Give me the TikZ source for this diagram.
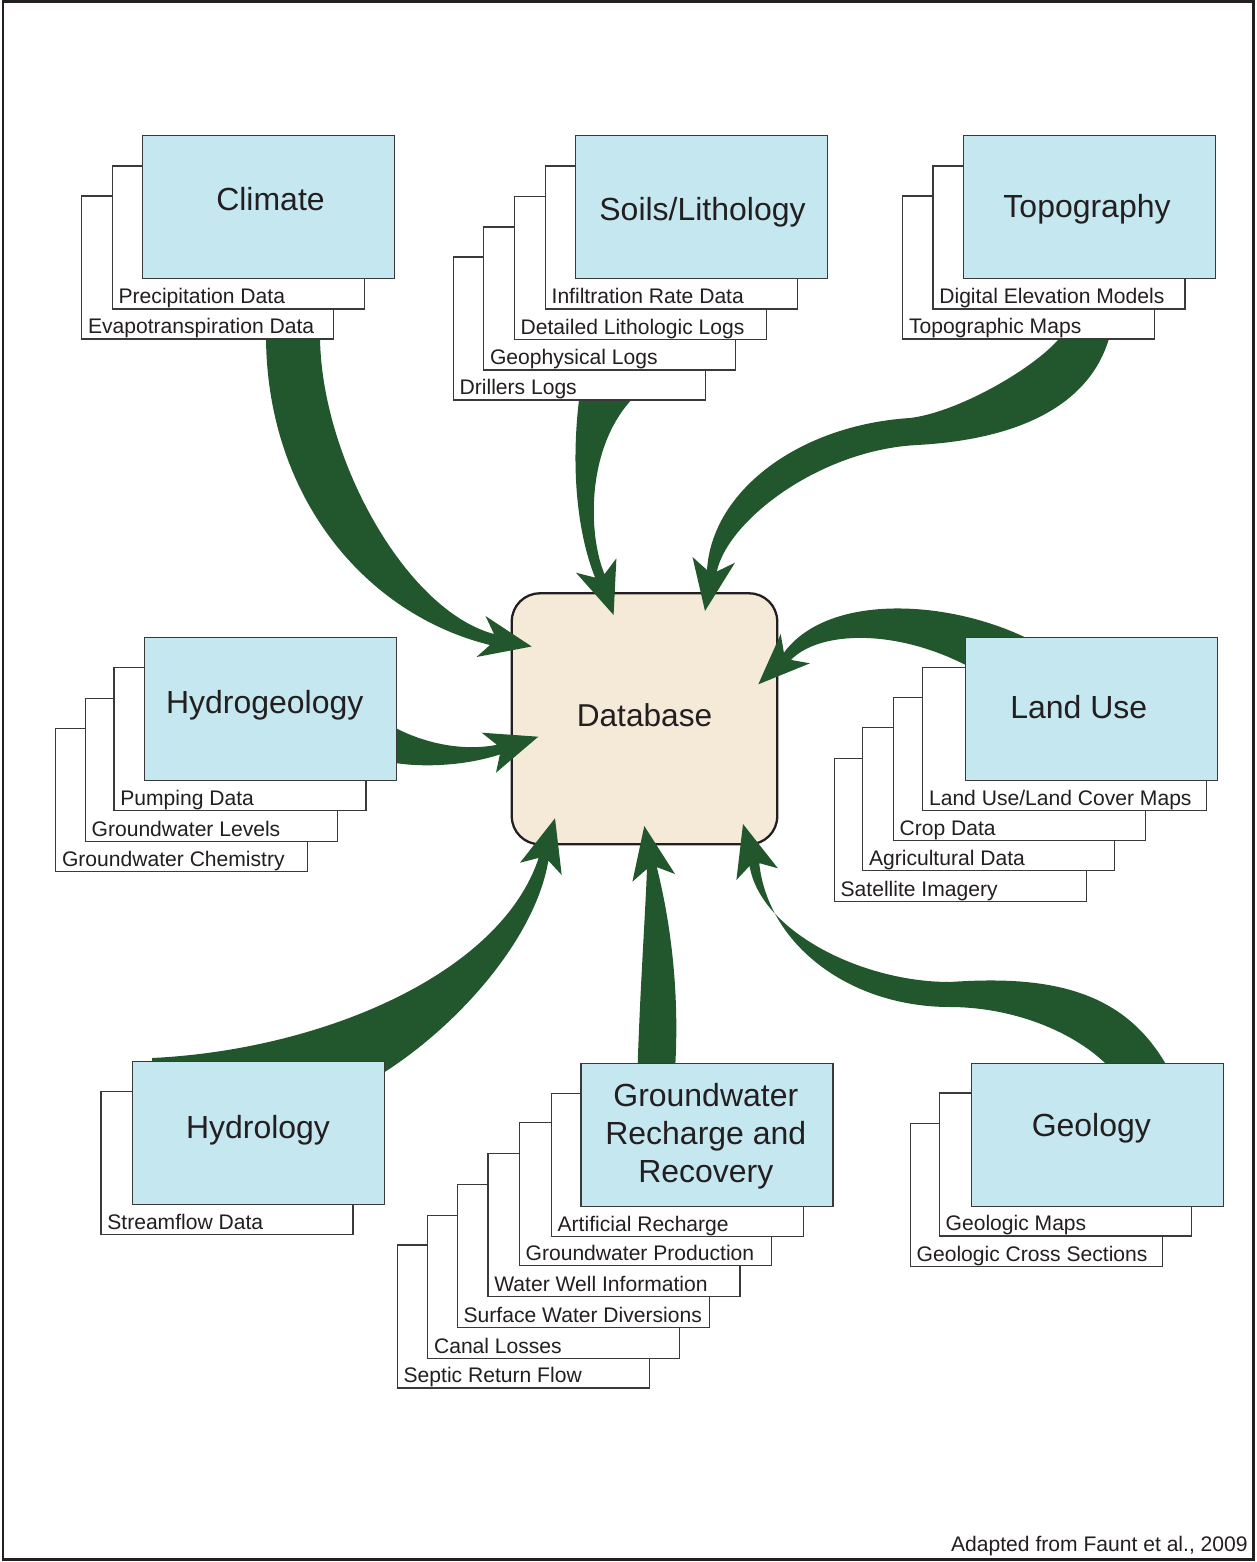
\documentclass[tikz,border=0pt]{standalone}
\usepackage{fontspec}
\setmainfont{Liberation Sans}
\usetikzlibrary{calc}
\definecolor{cardblue}{HTML}{C5E8F0}
\definecolor{dbbeige}{HTML}{F5EAD8}
\definecolor{flowgreen}{HTML}{22562C}
\definecolor{edgegray}{HTML}{3A3A3A}
\definecolor{inkdark}{HTML}{231F20}

\begin{document}
\begin{tikzpicture}[x=0.02cm, y=-0.02cm,
  every node/.style={text=inkdark},
  card/.style={draw=edgegray, line width=0.7pt, fill=cardblue, minimum width=5.04cm, minimum height=2.86cm, anchor=north west, inner sep=0pt, outer sep=0pt},
  backcard/.style={card, fill=white},
  title/.style={font=\fontsize{18.2}{21.6}\selectfont, align=center, anchor=base, inner sep=0pt},
  cardlabel/.style={font=\fontsize{12}{14.4}\selectfont, anchor=base west, inner sep=0pt},
  flow/.style={fill=flowgreen, draw=none}]
\useasboundingbox (0,0) rectangle (1257,1562);
\draw[line width=0.05cm, draw=inkdark] (3,1.5) rectangle (1253.5,1559.5);

% Database in the middle
\node[draw=inkdark, line width=1.3pt, fill=dbbeige, rounded corners=0.56cm, minimum width=5.31cm, minimum height=5.02cm, text height=8.6pt, text depth=0pt, font=\fontsize{18}{21.6}\selectfont] (db) at (644.5,718.8) {Database};

% Arrow tips on the database
\coordinate (climateTip) at (531.7,646.5);
\coordinate (soilsTip) at (613.6,615);
\coordinate (topoTip) at (705,611);
\coordinate (landTip) at (758.3,684.3);
\coordinate (hydgeoTip) at (538.3,736.7);
\coordinate (hydroTip) at (555,818.3);
\coordinate (grrTip) at (644.3,826);
\coordinate (geoTip) at (743,824);

% Draw the tapered arrows
\fill[flow] (266,335) .. controls (266,495) and (364,614) .. (490,645)
  -- (476.5,657) -- (climateTip) -- (485.5,616) -- (494,634)
  .. controls (405,610.4) and (320,455) .. (320,335) -- cycle;
\fill[flow] (579.6,395) .. controls (570,470) and (578,535) .. (595.1,577.6)
  -- (576,572.7) -- (soilsTip) -- (616.4,558.3) -- (604.5,574.2)
  .. controls (588,535) and (585,445) .. (636,395) -- cycle;
\fill[flow] (1062,335) .. controls (1040,365) and (960,412) .. (910,418)
  .. controls (800,425) and (712,490) .. (707,570)
  -- (692.5,557) -- (topoTip) -- (735,562.7) -- (716.8,571.5)
  .. controls (728,520) and (820,450) .. (917,445)
  .. controls (1010,440) and (1090,410) .. (1110,335) -- cycle;
\fill[flow] (1040,645) .. controls (960,600) and (830,590) .. (783.9,652.7)
  -- (780.7,634) -- (landTip) -- (810,663.3) -- (790.9,659.9)
  .. controls (820,630) and (900,628) .. (975,670) -- cycle;
\fill[flow] (390,725) .. controls (420,742) and (460,752) .. (496.9,744.8)
  -- (481.7,732.7) -- (hydgeoTip) -- (496,772.7) -- (499.9,754.4)
  .. controls (465,766) and (420,768) .. (390,762) -- cycle;
\fill[flow] (152,1058) .. controls (320,1050) and (500,975) .. (538.7,857.9)
  -- (520,862.7) -- (hydroTip) -- (561.7,875) -- (548.4,860.6)
  .. controls (535,940) and (455,1030) .. (375,1078) -- (152,1062) -- cycle;
\fill[flow] (637.5,1070) .. controls (640,990) and (645,920) .. (647,868.9)
  -- (632.4,881.7) -- (grrTip) -- (675,874) -- (656.8,867.1)
  .. controls (670,920) and (680,990) .. (675,1070) -- cycle;
\fill[flow] (1168,1068) .. controls (1125,990) and (1050,975) .. (950,982)
  .. controls (860,982) and (760,930) .. (749.6,865.9)
  -- (736.4,880) -- (geoTip) -- (777.9,868.3) -- (759.2,863.1)
  .. controls (768,945) and (850,1007) .. (950,1007)
  .. controls (1010,1007) and (1075,1030) .. (1112,1070) -- cycle;

% Climate stack
\node[backcard] (climateC) at (81.7,196) {};
\node[cardlabel] (climateCtxt) at ($(climateC.south west)+(6,-5)$) {Evapotranspiration Data};
\node[backcard] (climateB) at (112.3,166) {};
\node[cardlabel] (climateBtxt) at ($(climateB.south west)+(6,-5)$) {Precipitation Data};
\node[card] (climate) at (142.3,135.7) {};
\node[title] (climateT) at (270.5,210) {Climate};

% Soils/Lithology stack
\node[backcard] (soilsE) at (453.3,257) {};
\node[cardlabel] (soilsEtxt) at ($(soilsE.south west)+(6,-5)$) {Drillers Logs};
\node[backcard] (soilsD) at (483.7,227) {};
\node[cardlabel] (soilsDtxt) at ($(soilsD.south west)+(6,-5)$) {Geophysical Logs};
\node[backcard] (soilsC) at (514.3,196.5) {};
\node[cardlabel] (soilsCtxt) at ($(soilsC.south west)+(6,-5)$) {Detailed Lithologic Logs};
\node[backcard] (soilsB) at (545.3,166) {};
\node[cardlabel] (soilsBtxt) at ($(soilsB.south west)+(6,-5)$) {Infiltration Rate Data};
\node[card] (soils) at (575.3,135.7) {};
\node[title] (soilsT) at (702.5,220) {Soils/Lithology};

% Topography stack
\node[backcard] (topoC) at (902.7,196) {};
\node[cardlabel] (topoCtxt) at ($(topoC.south west)+(6,-5)$) {Topographic Maps};
\node[backcard] (topoB) at (933,166) {};
\node[cardlabel] (topoBtxt) at ($(topoB.south west)+(6,-5)$) {Digital Elevation Models};
\node[card] (topo) at (963.3,135.7) {};
\node[title] (topoT) at (1087,217.7) {Topography};

% Hydrogeology stack
\node[backcard] (hydgeoD) at (55.7,728.3) {};
\node[cardlabel] (hydgeoDtxt) at ($(hydgeoD.south west)+(6,-5)$) {Groundwater Chemistry};
\node[backcard] (hydgeoC) at (85.3,698.5) {};
\node[cardlabel] (hydgeoCtxt) at ($(hydgeoC.south west)+(6,-5)$) {Groundwater Levels};
\node[backcard] (hydgeoB) at (114,667.5) {};
\node[cardlabel] (hydgeoBtxt) at ($(hydgeoB.south west)+(6,-5)$) {Pumping Data};
\node[card] (hydgeo) at (144.3,637.3) {};
\node[title] (hydgeoT) at (264.7,713.3) {Hydrogeology};

% Land Use stack
\node[backcard] (landE) at (834.3,758.3) {};
\node[cardlabel] (landEtxt) at ($(landE.south west)+(6,-5)$) {Satellite Imagery};
\node[backcard] (landD) at (862.7,727.5) {};
\node[cardlabel] (landDtxt) at ($(landD.south west)+(6,-5)$) {Agricultural Data};
\node[backcard] (landC) at (893.3,697.7) {};
\node[cardlabel] (landCtxt) at ($(landC.south west)+(6,-5)$) {Crop Data};
\node[backcard, minimum width=5.67cm] (landB) at (922.7,667.3) {};
\node[cardlabel] (landBtxt) at ($(landB.south west)+(6,-5)$) {Land Use/Land Cover Maps};
\node[card] (land) at (965.3,637.7) {};
\node[title] (landT) at (1078.8,718.3) {Land Use};

% Hydrology stack
\node[backcard] (hydroB) at (101,1091.3) {};
\node[cardlabel] (hydroBtxt) at ($(hydroB.south west)+(6,-5)$) {Streamflow Data};
\node[card] (hydro) at (132.7,1061.3) {};
\node[title] (hydroT) at (258,1138.3) {Hydrology};

% Groundwater Recharge and Recovery stack
\node[backcard] (grrG) at (397.3,1245) {};
\node[cardlabel] (grrGtxt) at ($(grrG.south west)+(6,-5)$) {Septic Return Flow};
\node[backcard] (grrF) at (427.7,1215.3) {};
\node[cardlabel] (grrFtxt) at ($(grrF.south west)+(6,-5)$) {Canal Losses};
\node[backcard] (grrE) at (457.3,1184.7) {};
\node[cardlabel] (grrEtxt) at ($(grrE.south west)+(6,-5)$) {Surface Water Diversions};
\node[backcard] (grrD) at (488,1153.7) {};
\node[cardlabel] (grrDtxt) at ($(grrD.south west)+(6,-5)$) {Water Well Information};
\node[backcard] (grrC) at (519.3,1122.3) {};
\node[cardlabel] (grrCtxt) at ($(grrC.south west)+(6,-5)$) {Groundwater Production};
\node[backcard] (grrB) at (551.3,1093.3) {};
\node[cardlabel] (grrBtxt) at ($(grrB.south west)+(6,-5)$) {Artificial Recharge};
\node[card] (grr) at (581,1063.7) {};
\node[title, anchor=center] (grrT) at (705.8,1136) {Groundwater\\Recharge and\\Recovery};

% Geology stack
\node[backcard] (geoC) at (910.3,1123.7) {};
\node[cardlabel] (geoCtxt) at ($(geoC.south west)+(6,-5)$) {Geologic Cross Sections};
\node[backcard] (geoB) at (939.3,1093) {};
\node[cardlabel] (geoBtxt) at ($(geoB.south west)+(6,-5)$) {Geologic Maps};
\node[card] (geo) at (971.3,1063.3) {};
\node[title] (geoT) at (1091.3,1136.7) {Geology};

% Source note
\node[anchor=base east, inner sep=0pt, font=\fontsize{12}{14.4}\selectfont] (credit) at (1248,1551) {Adapted from Faunt et al., 2009};
\end{tikzpicture}
\end{document}
